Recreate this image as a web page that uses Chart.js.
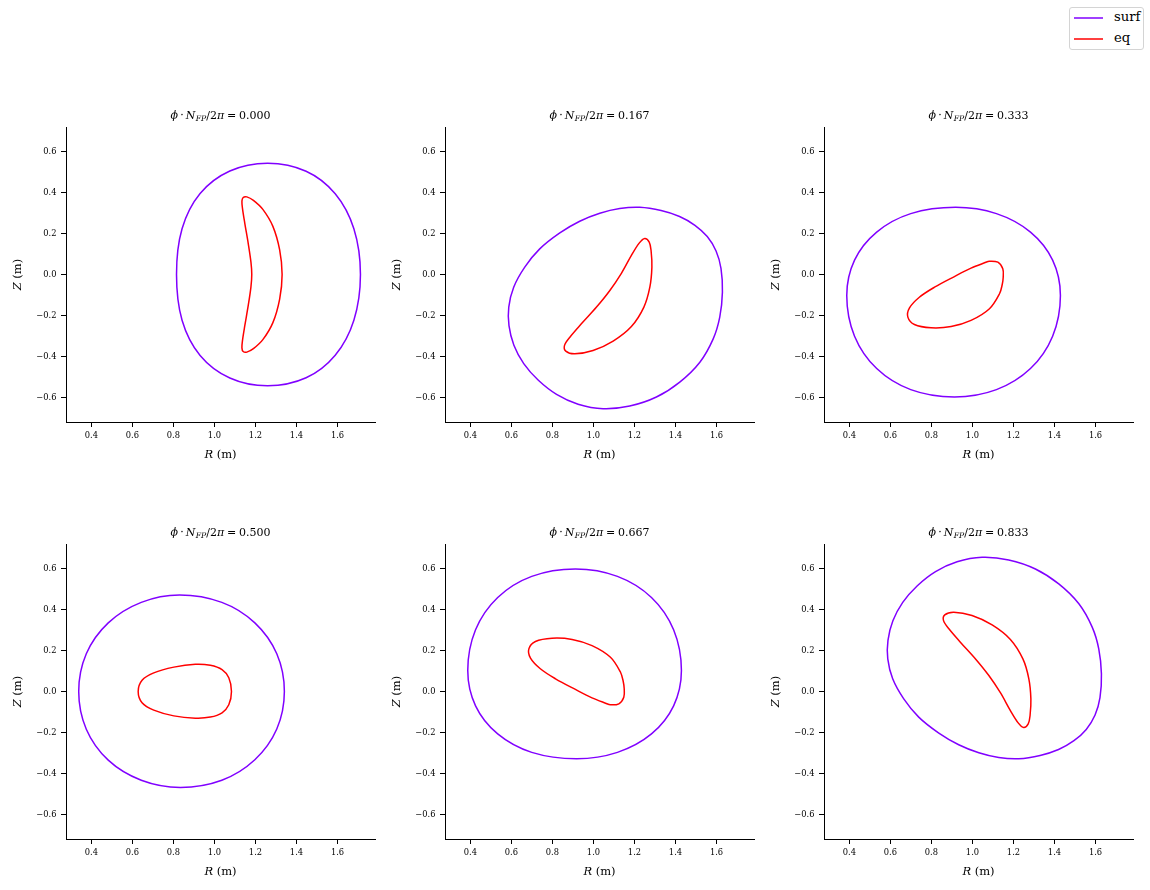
<!DOCTYPE html>
<html>
<head>
<meta charset="utf-8">
<script src="https://cdn.jsdelivr.net/npm/chart.js@4.4.1/dist/chart.umd.min.js"></script>
<style>
  html, body { margin: 0; padding: 0; background: #fff; }
  body { width: 1150px; height: 890px; position: relative; overflow: hidden; font-family: 'DejaVu Serif', serif; }
  canvas { position: absolute; }
  #legend { position: absolute; left: 1069px; top: 7px; width: 75px; height: 43px; box-sizing: border-box;
            border: 1px solid #d4d4d4; border-radius: 3px; background: rgba(255,255,255,0.8); }
  .lg-line { position: absolute; left: 3px; width: 31px; height: 4px; }
  .lg-text { position: absolute; left: 44px; font-family: 'DejaVu Serif', serif; font-size: 13.2px; line-height: 16px; color: #000; }
</style>
</head>
<body>
<div id="legend"></div>
<script>
// ---------------- data (R, Z) in metres ----------------
const phiLabels = ['0.000', '0.167', '0.333', '0.500', '0.667', '0.833'];
const seriesNames = ['surf', 'eq'];
const xTicks = [0.4, 0.6, 0.8, 1.0, 1.2, 1.4, 1.6];
const xTickLabels = ['0.4', '0.6', '0.8', '1.0', '1.2', '1.4', '1.6'];
const yTicks = [-0.6, -0.4, -0.2, 0.0, 0.2, 0.4, 0.6];
const yTickLabels = ['\u22120.6', '\u22120.4', '\u22120.2', '0.0', '0.2', '0.4', '0.6'];
const xRange = [0.276, 1.783];
const yRange = [-0.72, 0.72];

const surf_000 = [[1.712,0.000],[1.680,0.223],[1.589,0.394],[1.447,0.504],[1.260,0.543],[1.075,0.505],[0.930,0.395],[0.842,0.223],[0.815,0.000],[0.842,-0.223],[0.930,-0.395],[1.075,-0.505],[1.260,-0.543],[1.447,-0.504],[1.589,-0.394],[1.680,-0.223]];
const eq_000 = [[1.330,0.000],[1.318,0.120],[1.285,0.235],[1.236,0.318],[1.190,0.362],[1.158,0.379],[1.140,0.376],[1.134,0.358],[1.137,0.320],[1.148,0.250],[1.165,0.150],[1.178,0.060],[1.182,0.000],[1.178,-0.060],[1.165,-0.150],[1.148,-0.250],[1.137,-0.320],[1.134,-0.358],[1.140,-0.376],[1.158,-0.379],[1.190,-0.362],[1.236,-0.318],[1.285,-0.235],[1.318,-0.120]];

const surf_167 = [[1.629,-0.086],[1.622,0.030],[1.598,0.115],[1.555,0.185],[1.495,0.240],[1.420,0.283],[1.330,0.312],[1.226,0.328],[1.128,0.322],[1.031,0.299],[0.933,0.260],[0.836,0.203],[0.738,0.125],[0.665,0.036],[0.611,-0.062],[0.587,-0.159],[0.588,-0.250],[0.612,-0.345],[0.660,-0.435],[0.730,-0.515],[0.820,-0.585],[0.925,-0.633],[1.047,-0.655],[1.177,-0.642],[1.307,-0.598],[1.421,-0.525],[1.519,-0.428],[1.584,-0.314],[1.616,-0.208]];
const eq_167 = [[1.250,0.176],[1.272,0.158],[1.281,0.117],[1.285,0.036],[1.275,-0.062],[1.246,-0.159],[1.185,-0.254],[1.096,-0.325],[0.998,-0.371],[0.909,-0.387],[0.865,-0.374],[0.859,-0.346],[0.885,-0.306],[0.941,-0.241],[1.015,-0.159],[1.080,-0.078],[1.137,0.007],[1.185,0.093],[1.223,0.153]];

const surf_333 = [[1.429,-0.102],[1.391,0.070],[1.283,0.207],[1.117,0.297],[0.918,0.328],[0.699,0.297],[0.533,0.207],[0.425,0.070],[0.387,-0.102],[0.425,-0.301],[0.533,-0.459],[0.699,-0.562],[0.912,-0.598],[1.117,-0.562],[1.283,-0.459],[1.391,-0.301]];
const eq_333 = [[1.083,0.065],[1.124,0.060],[1.148,0.028],[1.150,-0.013],[1.145,-0.050],[1.132,-0.094],[1.083,-0.167],[0.993,-0.224],[0.896,-0.254],[0.798,-0.260],[0.717,-0.244],[0.685,-0.208],[0.693,-0.163],[0.741,-0.111],[0.815,-0.062],[0.912,-0.010],[0.993,0.031],[1.059,0.057]];

const surf_500 = [[1.341,0.000],[1.304,0.184],[1.197,0.335],[1.036,0.435],[0.830,0.471],[0.643,0.435],[0.482,0.335],[0.375,0.184],[0.338,0.000],[0.375,-0.184],[0.482,-0.335],[0.643,-0.433],[0.834,-0.468],[1.036,-0.433],[1.197,-0.333],[1.304,-0.183]];
const eq_500 = [[1.083,0.000],[1.070,0.067],[1.037,0.107],[0.980,0.128],[0.907,0.133],[0.802,0.119],[0.704,0.091],[0.647,0.055],[0.628,0.000],[0.647,-0.055],[0.704,-0.091],[0.802,-0.119],[0.907,-0.130],[0.980,-0.125],[1.037,-0.104],[1.070,-0.065]];

const surf_667 = [[1.429,0.102],[1.391,-0.070],[1.283,-0.207],[1.117,-0.297],[0.918,-0.328],[0.699,-0.297],[0.533,-0.207],[0.425,-0.070],[0.387,0.102],[0.425,0.301],[0.533,0.459],[0.699,0.562],[0.912,0.598],[1.117,0.562],[1.283,0.459],[1.391,0.301]];
const eq_667 = [[1.083,-0.065],[1.124,-0.060],[1.148,-0.028],[1.150,0.013],[1.145,0.050],[1.132,0.094],[1.083,0.167],[0.993,0.224],[0.896,0.254],[0.798,0.260],[0.717,0.244],[0.685,0.208],[0.693,0.163],[0.741,0.111],[0.815,0.062],[0.912,0.010],[0.993,-0.031],[1.059,-0.057]];

const surf_833 = [[1.629,0.086],[1.622,-0.030],[1.598,-0.115],[1.555,-0.185],[1.495,-0.240],[1.420,-0.283],[1.330,-0.312],[1.226,-0.328],[1.128,-0.322],[1.031,-0.299],[0.933,-0.260],[0.836,-0.203],[0.738,-0.125],[0.665,-0.036],[0.611,0.062],[0.587,0.159],[0.588,0.250],[0.612,0.345],[0.660,0.435],[0.730,0.515],[0.820,0.585],[0.925,0.633],[1.047,0.655],[1.177,0.642],[1.307,0.598],[1.421,0.525],[1.519,0.428],[1.584,0.314],[1.616,0.208]];
const eq_833 = [[1.250,-0.176],[1.272,-0.158],[1.281,-0.117],[1.285,-0.036],[1.275,0.062],[1.246,0.159],[1.185,0.254],[1.096,0.325],[0.998,0.371],[0.909,0.387],[0.865,0.374],[0.859,0.346],[0.885,0.306],[0.941,0.241],[1.015,0.159],[1.080,0.078],[1.137,-0.007],[1.185,-0.093],[1.223,-0.153]];

const surfCurves = [surf_000, surf_167, surf_333, surf_500, surf_667, surf_833];
const eqCurves = [eq_000, eq_167, eq_333, eq_500, eq_667, eq_833];

// ---------------- styling / layout ----------------
const SURF_COLOR = '#8000ff';
const EQ_COLOR = '#ff0000';
const LINE_W = 1.5;
const TENSION = 0.34;
const colLeft = [66, 445, 824];
const rowTop = [127, 544];
const PLOT_W = 309, PLOT_H = 295;
const PAD_L = 66, PAD_T = 30, PAD_R = 4, PAD_B = 50;
const SERIF = "'DejaVu Serif', serif";

// closes each curve into a smooth loop
const closeLoop = {
  id: 'closeLoop',
  beforeDatasetsDraw(chart) {
    chart.getSortedVisibleDatasetMetas().forEach(m => {
      const l = m.dataset;
      if (l) {
        l._loop = true; l._fullLoop = true; l._pointsUpdated = false;
        l._segments = undefined; l._path = undefined;
      }
    });
  }
};

function drawRich(ctx, parts, cx, baseline) {
  let w = 0;
  parts.forEach(p => { ctx.font = p.font; p.w = ctx.measureText(p.t).width; w += p.w + (p.gb || 0) + (p.ga || 0); });
  let x = cx - w / 2;
  ctx.fillStyle = '#000';
  ctx.textAlign = 'left';
  ctx.textBaseline = 'alphabetic';
  parts.forEach(p => {
    x += (p.gb || 0);
    ctx.font = p.font;
    ctx.fillText(p.t, x, baseline + (p.dy || 0));
    x += p.w + (p.ga || 0);
  });
}

const TS = 11;
function titleParts(phi) {
  const it = 'italic ' + TS + 'px ' + SERIF, rm = TS + 'px ' + SERIF, sub = 'italic ' + (TS * 0.7) + 'px ' + SERIF;
  return [
    {t: '\u03d5', font: it},
    {t: '\u00b7', font: rm, gb: 2.2, ga: 2.2},
    {t: 'N', font: it},
    {t: 'FP', font: sub, dy: 2.0, gb: 0.3},
    {t: '/', font: rm},
    {t: '2', font: rm},
    {t: '\u03c0', font: it},
    {t: '=', font: rm, gb: 2.8, ga: 2.8},
    {t: phi, font: rm}
  ];
}
const LS = 11.5;
function labelParts(v) {
  return [
    {t: v, font: 'italic ' + LS + 'px ' + SERIF},
    {t: '(m)', font: LS + 'px ' + SERIF, gb: 3.5}
  ];
}

const annot = {
  id: 'annot',
  afterDraw(chart, args, opts) {
    const ctx = chart.ctx, a = chart.chartArea;
    const cx = (a.left + a.right) / 2, cy = (a.top + a.bottom) / 2;
    ctx.save();
    drawRich(ctx, titleParts(opts.phi), cx, a.top - 8);
    drawRich(ctx, labelParts('R'), cx, a.bottom + 36);
    ctx.translate(a.left - 45.5, cy);
    ctx.rotate(-Math.PI / 2);
    drawRich(ctx, labelParts('Z'), 0, 0);
    ctx.restore();
  }
};

function toXY(arr) { return arr.map(p => ({x: p[0], y: p[1]})); }

for (let i = 0; i < 6; i++) {
  const r = Math.floor(i / 3), c = i % 3;
  const cv = document.createElement('canvas');
  const W = PAD_L + PLOT_W + PAD_R, H = PAD_T + PLOT_H + PAD_B;
  cv.width = W; cv.height = H;
  cv.style.left = (colLeft[c] - PAD_L) + 'px';
  cv.style.top = (rowTop[r] - PAD_T) + 'px';
  cv.style.width = W + 'px'; cv.style.height = H + 'px';
  document.body.appendChild(cv);

  const tickFont = {family: SERIF, size: 8.3};
  new Chart(cv, {
    type: 'line',
    data: {
      datasets: [
        {label: seriesNames[0], data: toXY(surfCurves[i]), borderColor: SURF_COLOR, backgroundColor: SURF_COLOR,
         borderWidth: LINE_W, pointRadius: 0, tension: TENSION, fill: false},
        {label: seriesNames[1], data: toXY(eqCurves[i]), borderColor: EQ_COLOR, backgroundColor: EQ_COLOR,
         borderWidth: LINE_W, pointRadius: 0, tension: TENSION, fill: false}
      ]
    },
    options: {
      responsive: false, animation: false, events: [], devicePixelRatio: 1,
      layout: {padding: {left: 0, top: PAD_T, right: PAD_R, bottom: 0}},
      plugins: {legend: {display: false}, tooltip: {enabled: false}, title: {display: false}, annot: {phi: phiLabels[i]}},
      scales: {
        x: {
          type: 'linear', min: xRange[0], max: xRange[1],
          afterFit(s) { s.height = PAD_B; },
          afterBuildTicks(s) { s.ticks = xTicks.map(v => ({value: v})); },
          ticks: {callback: (v, k) => xTickLabels[k], font: tickFont, color: '#000', padding: 4, maxRotation: 0, autoSkip: false},
          grid: {drawOnChartArea: false, drawTicks: true, tickLength: 5, color: '#000', tickWidth: 1},
          border: {display: true, color: '#000', width: 1}
        },
        y: {
          type: 'linear', min: yRange[0], max: yRange[1],
          afterFit(s) { s.width = PAD_L; },
          afterBuildTicks(s) { s.ticks = yTicks.map(v => ({value: v})); },
          ticks: {callback: (v, k) => yTickLabels[k], font: tickFont, color: '#000', padding: 4.5, autoSkip: false},
          grid: {drawOnChartArea: false, drawTicks: true, tickLength: 5, color: '#000', tickWidth: 1},
          border: {display: true, color: '#000', width: 1}
        }
      }
    },
    plugins: [closeLoop, annot]
  });
}

// figure-level legend
const legend = document.getElementById('legend');
const SVGNS = 'http://www.w3.org/2000/svg';
[[seriesNames[0], SURF_COLOR, 9.5], [seriesNames[1], EQ_COLOR, 31]].forEach(([name, col, y]) => {
  const svg = document.createElementNS(SVGNS, 'svg');
  svg.setAttribute('class', 'lg-line');
  svg.setAttribute('width', '31'); svg.setAttribute('height', '4');
  svg.style.top = (y - 2) + 'px';
  const ln = document.createElementNS(SVGNS, 'line');
  ln.setAttribute('x1', '1'); ln.setAttribute('x2', '30');
  ln.setAttribute('y1', '2'); ln.setAttribute('y2', '2');
  ln.setAttribute('stroke', col); ln.setAttribute('stroke-width', '1.5');
  svg.appendChild(ln);
  legend.appendChild(svg);
  const tx = document.createElement('div');
  tx.className = 'lg-text'; tx.textContent = name; tx.style.top = (y - 9) + 'px';
  legend.appendChild(tx);
});
</script>
</body>
</html>
